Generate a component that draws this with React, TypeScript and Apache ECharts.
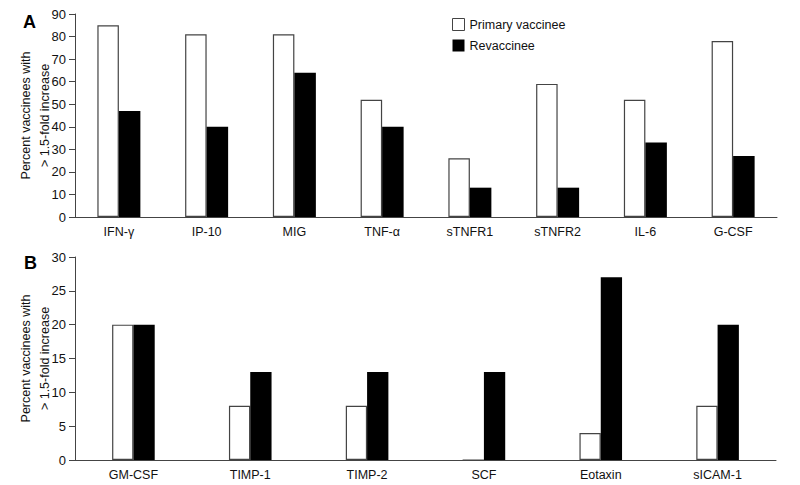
import React, { useEffect, useRef } from "react";
import * as echarts from "echarts";

const catsA = ["IFN-γ", "IP-10", "MIG", "TNF-α", "sTNFR1", "sTNFR2", "IL-6", "G-CSF"];
const primaryA = [85, 81, 81, 52, 26, 59, 52, 78];
const revacA = [47, 40, 64, 40, 13, 13, 33, 27];

const catsB = ["GM-CSF", "TIMP-1", "TIMP-2", "SCF", "Eotaxin", "sICAM-1"];
const primaryB = [20, 8, 8, 0, 4, 8];
const revacB = [20, 13, 13, 13, 27, 20];

const PRIMARY = "Primary vaccinee";
const REVAC = "Revaccinee";
const FONT = "Liberation Sans, Arial, sans-serif";
const AXIS_COLOR = "#444";
const yName = "Percent vaccinees with\n> 1.5-fold increase";

export default function App() {
  const ref = useRef<HTMLDivElement>(null);
  useEffect(() => {
    if (!ref.current) return;
    const chart = echarts.init(ref.current, undefined, { renderer: "svg" });
    const xAxisBase = (data: string[], gridIndex: number) => ({
      type: "category",
      gridIndex,
      data,
      axisLine: { lineStyle: { color: AXIS_COLOR, width: 1 } },
      axisTick: { show: false },
      axisLabel: { color: "#111", fontSize: 12.5, fontFamily: FONT, margin: 8 },
    });
    const yAxisBase = (gridIndex: number, max: number, interval: number) => ({
      type: "value",
      gridIndex,
      min: 0,
      max,
      interval,
      name: yName,
      nameLocation: "middle",
      nameRotate: 90,
      nameGap: 21,
      nameMoveOverlap: false,
      nameTextStyle: { color: "#111", fontSize: 12.5, fontFamily: FONT, lineHeight: 19 },
      axisLine: { show: true, lineStyle: { color: AXIS_COLOR, width: 1 } },
      axisTick: { show: true, length: 6, lineStyle: { color: AXIS_COLOR } },
      axisLabel: { color: "#111", fontSize: 13, fontFamily: FONT, margin: 9 },
      splitLine: { show: false },
    });
    const primaryStyle = { color: "#fff", borderColor: "#444", borderWidth: 1.2 };
    const revacStyle = { color: "#000" };
    chart.setOption({
      animation: false,
      backgroundColor: "#fff",
      textStyle: { fontFamily: FONT },
      grid: [
        { left: 75, top: 14, right: 23, height: 203 },
        { left: 75, top: 257, right: 24, height: 203 },
      ],
      legend: {
        orient: "vertical",
        left: 447,
        top: 13,
        itemWidth: 12,
        itemHeight: 12,
        itemGap: 8,
        textStyle: { color: "#111", fontSize: 12.5, fontFamily: FONT },
        data: [
          { name: PRIMARY, icon: "rect", itemStyle: { color: "#fff", borderColor: "#444", borderWidth: 1 } },
          { name: REVAC, icon: "rect", itemStyle: { color: "#000" } },
        ],
      },
      xAxis: [xAxisBase(catsA, 0), xAxisBase(catsB, 1)],
      yAxis: [yAxisBase(0, 90, 10), yAxisBase(1, 30, 5)],
      series: [
        { name: PRIMARY, type: "bar", xAxisIndex: 0, yAxisIndex: 0, data: primaryA, barWidth: 21.5, barGap: "0%", itemStyle: primaryStyle },
        { name: REVAC, type: "bar", xAxisIndex: 0, yAxisIndex: 0, data: revacA, barWidth: 21.5, barGap: "0%", itemStyle: revacStyle },
        { name: PRIMARY, type: "bar", xAxisIndex: 1, yAxisIndex: 1, data: primaryB, barWidth: 21.3, barGap: "0%", itemStyle: primaryStyle },
        { name: REVAC, type: "bar", xAxisIndex: 1, yAxisIndex: 1, data: revacB, barWidth: 21.3, barGap: "0%", itemStyle: revacStyle },
      ],
      graphic: [
        { type: "text", left: 23, top: 13, style: { text: "A", fontSize: 18, fontWeight: "bold", fontFamily: FONT, fill: "#000" } },
        { type: "text", left: 24, top: 254, style: { text: "B", fontSize: 18, fontWeight: "bold", fontFamily: FONT, fill: "#000" } },
      ],
    });
    return () => chart.dispose();
  }, []);
  return <div ref={ref} style={{ width: 800, height: 485, position: "absolute", left: 0, top: 0 }} />;
}
